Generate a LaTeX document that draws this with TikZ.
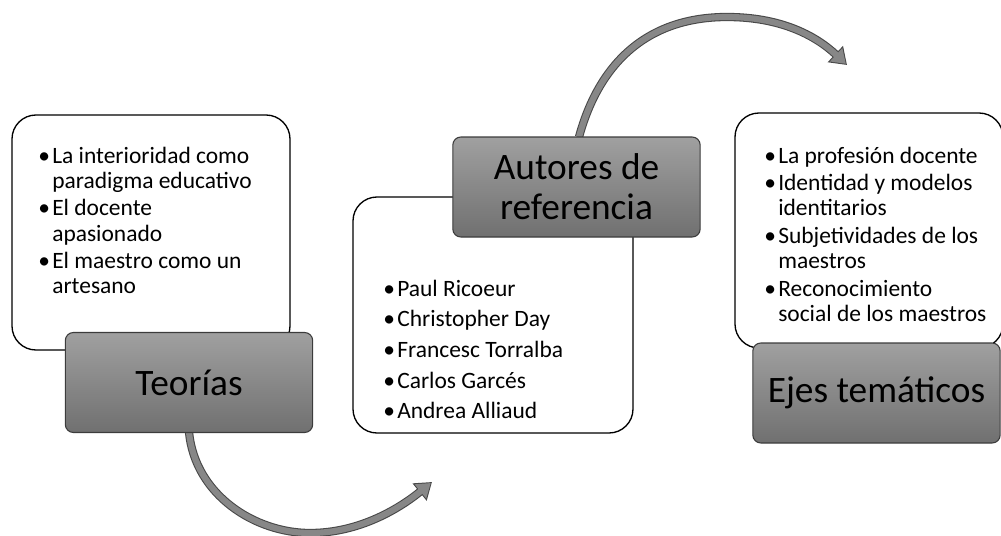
\documentclass[tikz,border=0pt]{standalone}
\usepackage{fontspec}
\setmainfont{Carlito}
\usepackage{tikz}
\usetikzlibrary{arrows.meta}

\definecolor{boxtop}{RGB}{160,160,160}
\definecolor{boxbot}{RGB}{112,112,112}
\definecolor{boxedge}{RGB}{60,60,60}
\definecolor{arcfill}{RGB}{135,135,135}
\definecolor{arcedge}{RGB}{72,72,72}

\newcommand{\bul}{\makebox[10.5pt][l]{\textbullet}}
\newcommand{\ind}{\makebox[10.5pt]{}}

\begin{document}
\begin{tikzpicture}[x=0.75pt, y=-0.75pt,
  listbox/.style={draw=black, line width=1pt, rounded corners=18pt, fill=white, inner sep=0pt},
  titlebox/.style={draw=boxedge, line width=0.8pt, rounded corners=6pt, top color=boxtop, bottom color=boxbot,
    inner sep=0pt, minimum width=185.5pt, minimum height=75pt, font=\fontsize{28}{30}\selectfont, align=center},
  listtext/.style={anchor=base west, inner sep=0pt, font=\fontsize{17.6}{18.9}\selectfont},
  arcout/.style={draw=arcedge, line width=6.2pt, -{Triangle[width=16pt,length=12pt]}},
  arcin/.style={draw=arcfill, line width=4.6pt, shorten >=1.2pt, -{Triangle[width=13pt,length=10pt]}}]

\useasboundingbox (0,0) rectangle (1001,536);

% white list boxes
\node[listbox, minimum width=208.5pt, minimum height=176.25pt] (teolist) at (151,232.5) {};
\node[listbox, minimum width=210pt, minimum height=177pt] (autlist) at (493,315) {};
\node[listbox, minimum width=201pt, minimum height=176.25pt] (ejelist) at (869,230.5) {};

% curved arrows
\coordinate (lowA) at (310,533);
\coordinate (tipA) at (432,482);
\coordinate (topB) at (727,17);
\coordinate (tipB) at (847,65);
\coordinate (startA) at (189,432);
\coordinate (startB) at (579,137);
\draw[arcout] (startA) .. controls (195,495) and (255,533) .. (lowA) .. controls (360,533) and (400,508) .. (tipA);
\draw[arcin] (startA) .. controls (195,495) and (255,533) .. (lowA) .. controls (360,533) and (400,508) .. (tipA);
\draw[arcout] (startB) .. controls (600,60) and (650,17) .. (topB) .. controls (780,17) and (815,35) .. (tipB);
\draw[arcin] (startB) .. controls (600,60) and (650,17) .. (topB) .. controls (780,17) and (815,35) .. (tipB);

% grey title boxes
\node[titlebox] (teoria) at (189,382.5) {Teorías};
\node[titlebox] (autores) at (576.5,187) {Autores de\\referencia};
\node[titlebox] (ejes) at (876.5,393) {Ejes temáticos};

% lists
\node[listtext] (teotext) at (38,163) {\begin{tabular}[t]{@{}l@{}}
\bul La interioridad como\\
\ind paradigma educativo\\[1.8pt]
\bul El docente\\
\ind apasionado\\[1.8pt]
\bul El maestro como un\\
\ind artesano
\end{tabular}};

\node[listtext] (auttext) at (383,296) {\begin{tabular}[t]{@{}l@{}}
\bul Paul Ricoeur\\[4.1pt]
\bul Christopher Day\\[4.1pt]
\bul Francesc Torralba\\[4.1pt]
\bul Carlos Garcés\\[4.1pt]
\bul Andrea Alliaud
\end{tabular}};

\node[listtext] (ejetext) at (764,163) {\begin{tabular}[t]{@{}l@{}}
\bul La profesión docente\\[1.8pt]
\bul Identidad y modelos\\
\ind identitarios\\[1.8pt]
\bul Subjetividades de los\\
\ind maestros\\[1.8pt]
\bul Reconocimiento\\
\ind social de los maestros
\end{tabular}};

\end{tikzpicture}
\end{document}
